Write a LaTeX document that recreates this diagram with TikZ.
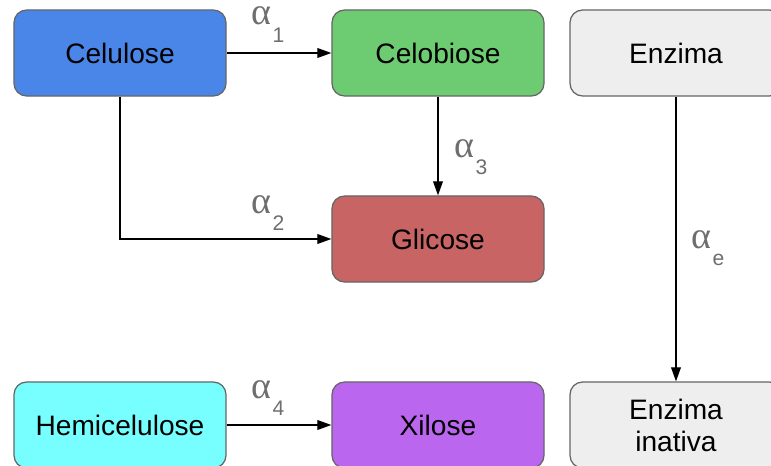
\documentclass[tikz,border=0pt]{standalone}
\usepackage{fontspec}
\setmainfont{Liberation Sans}
\newfontfamily\greekserif{Liberation Serif}
\usetikzlibrary{arrows.meta}

\definecolor{celcolor}{HTML}{4A86E8}
\definecolor{cbcolor}{HTML}{6DCC72}
\definecolor{glccolor}{HTML}{C86464}
\definecolor{hemicolor}{HTML}{77FFFF}
\definecolor{xilcolor}{HTML}{BB66EE}
\definecolor{enzcolor}{HTML}{EEEEEE}
\definecolor{bordercolor}{HTML}{666666}
\definecolor{ratecolor}{HTML}{6E6E6E}

% rate constant: serif alpha with a low sans subscript
\newcommand{\rate}[1]{\textcolor{ratecolor}{{\greekserif\fontsize{27}{30}\selectfont α}\kern1pt\raisebox{-12.5pt}{\fontsize{15}{17}\selectfont #1}}}

\tikzset{
    box/.style={rectangle, rounded corners=9pt, draw=bordercolor, line width=0.9pt,
        minimum width=5.3cm, minimum height=2.15cm, align=center,
        font=\fontsize{20}{22.7}\selectfont},
    flow/.style={line width=0.8pt, -{Triangle[length=10pt,width=7pt]}},
    ratelabel/.style={inner sep=0pt, anchor=base west}
}

\begin{document}
\begin{tikzpicture}[x=0.025cm, y=-0.025cm]
        \useasboundingbox (0, 0) rectangle (771, 466);

        \node[box, fill=celcolor] (celulose) at (120, 53) {Celulose};
        \node[box, fill=cbcolor] (celobiose) at (438, 53) {Celobiose};
        \node[box, fill=enzcolor] (enzima) at (676, 53) {Enzima};
        \node[box, fill=glccolor] (glicose) at (438, 239) {Glicose};
        \node[box, fill=hemicolor] (hemi) at (120, 425) {Hemicelulose};
        \node[box, fill=xilcolor] (xilose) at (438, 425) {Xilose};
        \node[box, fill=enzcolor] (inativa) at (676, 425) {Enzima\\inativa};

        \draw[flow] (celulose) -- (celobiose);
        \draw[flow] (celobiose) -- (glicose);
        \draw[flow] (celulose.south) |- (glicose.west);
        \draw[flow] (enzima) -- (inativa);
        \draw[flow] (hemi) -- (xilose);

        \node[ratelabel] (a1) at (251, 25) {\rate{1}};
        \node[ratelabel] (a2) at (251, 213) {\rate{2}};
        \node[ratelabel] (a3) at (454, 157) {\rate{3}};
        \node[ratelabel] (ae) at (691, 248) {\rate{e}};
        \node[ratelabel] (a4) at (251, 398) {\rate{4}};

    \end{tikzpicture}
\end{document}
